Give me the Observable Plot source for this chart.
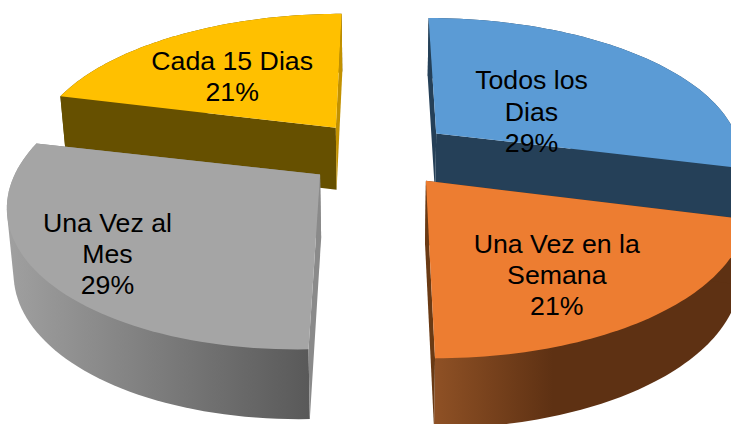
<!DOCTYPE html>
<html><head><meta charset="utf-8">
<style>html,body{margin:0;padding:0;background:#fff}</style>
<script src="https://cdn.jsdelivr.net/npm/d3@7"></script>
<script src="https://cdn.jsdelivr.net/npm/@observablehq/plot@0.6"></script>
</head><body><div id="chart"></div>
<script>
const categories = ["Todos los\nDias", "Una Vez en la\nSemana", "Una Vez al\nMes", "Cada 15 Dias"];
const shares = [29, 21, 29, 21];

const topColors = ["#5b9bd5", "#ed7d31", "#a5a5a5", "#ffc000"];
const outerWalls = ["#254058", "url(#wallOrange)", "url(#wallGray)", "#665000"];
const startWalls = ["#254058", "#5e3113", "#8a8a8a", "#665000"];
const endWalls = ["#254058", "#6a3a14", "#8a8a8a", "#c29100"];
const labelRadius = [0.376, 0.676, 0.785, 0.57];
const labelTurn = [10, 5.4, 0.5, -4.2];
const widthFit = [1, 1, 0.975, 1];
const shearFit = [0, 0, -0.03, 0];
const paintOrder = [3, 0, 2, 1];

// Tilted-disc perspective model
const cam = {cx: 379, horizon: -725, scale: 306, base: 878, k: 0.159, depth: 63, explode: 0.24};
const project = (X, Y) => {
  const w = 1 - cam.k * Y;
  return {x: cam.cx + cam.scale * X / w, y: cam.horizon + cam.base / w, w};
};
const drop = (p) => ({
  x: cam.cx + (p.x - cam.cx) * 0.982,
  y: p.y + cam.depth / Math.sqrt(p.w)
});

const total = d3.sum(shares);
let running = 0;
const slices = shares.map((v, i) => {
  const a0 = running / total * 2 * Math.PI;
  running += v;
  const a1 = running / total * 2 * Math.PI;
  const mid = (a0 + a1) / 2;
  const ox = cam.explode * Math.sin(mid), oy = -cam.explode * Math.cos(mid);
  const at = (t, r = 1) => project(
    ox + widthFit[i] * r * Math.sin(t),
    oy - r * Math.cos(t) + shearFit[i] * r * Math.sin(t)
  );
  const arc = d3.range(61).map((j) => at(a0 + (a1 - a0) * j / 60));
  const apex = at(0, 0);
  const lt = mid + labelTurn[i] * Math.PI / 180;
  const hull = d3.polygonHull([...arc, ...arc.map(drop)].map((p) => [p.x, p.y])).map(([x, y]) => ({x, y}));
  return {
    i,
    top: [apex, ...arc],
    outer: hull,
    wallStart: [apex, arc[0], drop(arc[0]), drop(apex)],
    wallEnd: [apex, arc[60], drop(arc[60]), drop(apex)],
    label: {...at(lt, labelRadius[i]), text: `${categories[i]}\n${shares[i]}%`}
  };
});

const poly = (pts, fill) => Plot.line(pts, {x: "x", y: "y", fill, stroke: "none", curve: "linear"});
const defs = () => d3.create("svg:defs").html(`
  <linearGradient id="wallGray" x1="0" x2="1" y1="0" y2="0">
    <stop offset="0" stop-color="#a0a0a0"/><stop offset="1" stop-color="#595959"/>
  </linearGradient>
  <linearGradient id="wallOrange" x1="0" x2="1" y1="0" y2="0">
    <stop offset="0" stop-color="#8f5125"/><stop offset="0.38" stop-color="#5e3113"/><stop offset="1" stop-color="#5e3113"/>
  </linearGradient>`).node();

const marks = [defs];
for (const i of paintOrder) {
  const s = slices[i];
  marks.push(
    poly(s.outer, outerWalls[i]),
    poly(s.wallStart, startWalls[i]),
    poly(s.wallEnd, endWalls[i]),
    poly(s.top, topColors[i])
  );
}
marks.push(Plot.text(slices.map((s) => s.label), {
  x: "x", y: "y", text: "text", fill: "#000", fontSize: 26.7, lineHeight: 1.17,
  fontFamily: "Liberation Sans, Arial, sans-serif", textAnchor: "middle"
}));

document.getElementById("chart").append(Plot.plot({
  width: 731, height: 424,
  margin: 0,
  x: {domain: [0, 731], range: [0, 731], axis: null},
  y: {domain: [0, 424], range: [0, 424], axis: null},
  marks
}));
</script></body></html>
